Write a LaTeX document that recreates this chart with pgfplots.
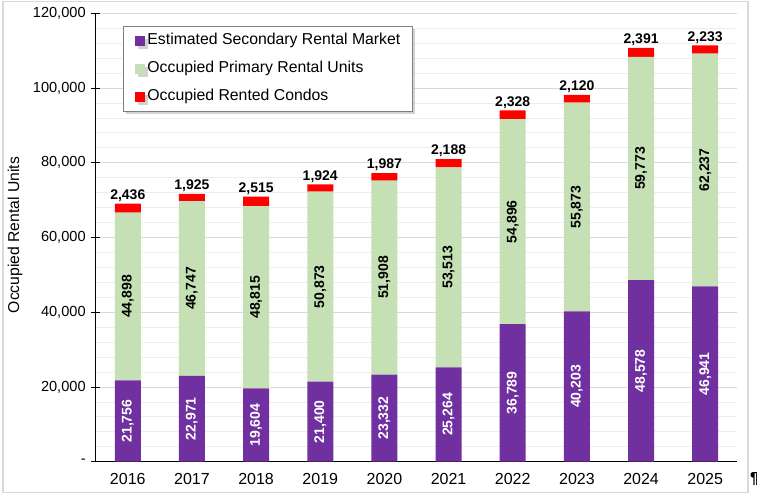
\documentclass[border=0pt]{standalone}
\usepackage{fontspec}
\setmainfont{Liberation Sans}
\usepackage{pgfplots}
\usepackage{pgfplotstable}
\pgfplotsset{compat=1.18}
\usetikzlibrary{shadows}
\definecolor{secc}{HTML}{7030A0}
\definecolor{primc}{HTML}{C5E0B4}
\definecolor{condc}{HTML}{FF0000}
\definecolor{majgrid}{HTML}{D9D9D9}
\definecolor{mingrid}{HTML}{EDEDED}
\definecolor{framec}{HTML}{D9D9D9}

\pgfplotstableread{
x year sec prim condo
0 2016 21756 44898 2436
1 2017 22971 46747 1925
2 2018 19604 48815 2515
3 2019 21400 50873 1924
4 2020 23332 51908 1987
5 2021 25264 53513 2188
6 2022 36789 54896 2328
7 2023 40203 55873 2120
8 2024 48578 59773 2391
9 2025 46941 62237 2233
}\data

\pgfplotsset{common/.style={width=641.6pt, height=448.4pt, scale only axis,
  xmin=-0.5, xmax=9.5, ymin=0, ymax=120000, at={(0,0)}, anchor=south west}}

\begin{document}
\begin{tikzpicture}
\begin{axis}[common,
  ybar stacked, bar width=26pt,
  axis x line=bottom, axis y line=left,
  axis line style={-, black, line width=0.8pt},
  ytick={0,20000,...,120000},
  yticklabels={-, {20,000}, {40,000}, {60,000}, {80,000}, {100,000}, {120,000}},
  minor y tick num=4,
  ymajorgrids, yminorgrids,
  major grid style={majgrid, line width=0.8pt},
  minor grid style={mingrid, line width=0.8pt},
  minor tick length=0pt,
  major tick length=9pt,
  tick align=center,
  tick style={black, line width=0.8pt},
  yticklabel style={font=\fontsize{14.6}{16}\selectfont, xshift=-2pt},
  xtick={0,...,9},
  xticklabels={2016,2017,2018,2019,2020,2021,2022,2023,2024,2025},
  xticklabel style={font=\fontsize{16}{18}\selectfont, yshift=-4pt},
  x tick style={draw=none},
  extra x ticks={-0.5,0.5,...,9.5},
  extra x tick labels={},
  extra x tick style={major tick length=10pt, tick style={black, line width=0.8pt, draw=black}},
  ylabel={Occupied Rental Units},
  ylabel style={at={(axis description cs:-0.1258,0.5056)}, anchor=center, font=\fontsize{15.7}{18}\selectfont},
  legend cell align=left,
  legend style={at={(axis description cs:0.0426,0.9717)}, anchor=north west,
    draw=gray, fill=white, line width=0.8pt,
    inner xsep=12pt, inner ysep=7.5pt,
    drop shadow={shadow xshift=3pt, shadow yshift=-3pt, fill=black!35, opacity=0.5},
    font=\fontsize{15.8}{18}\selectfont,
    nodes={inner sep=0pt, text height=11pt, text depth=3pt},
    row sep=14pt, column sep=2pt},
]
\addplot[fill=secc, draw=none, legend image code/.code={\fill[secc] (0pt,-5pt) rectangle (10pt,5pt);}] table[x=x, y=sec] {\data};
\addplot[fill=primc, draw=none, legend image code/.code={\fill[primc] (0pt,-5pt) rectangle (10pt,5pt);}] table[x=x, y=prim] {\data};
\addplot[fill=condc, draw=none, legend image code/.code={\fill[condc] (0pt,-5pt) rectangle (10pt,5pt);}] table[x=x, y=condo] {\data};
\legend{Estimated Secondary Rental Market, Occupied Primary Rental Units, Occupied Rented Condos}
\end{axis}
\begin{axis}[common, hide axis, clip=false,
  /pgf/number format/.cd, fixed, precision=0, 1000 sep={,}, assume math mode=true, /pgfplots/.cd]
\addplot[draw=none, mark=none, nodes near coords, point meta=\thisrow{sec},
  nodes near coords style={white, font=\fontsize{14}{16}\selectfont\bfseries, rotate=90, anchor=center}]
  table[x=x, y expr=\thisrow{sec}/2] {\data};
\addplot[draw=none, mark=none, nodes near coords, point meta=\thisrow{prim},
  nodes near coords style={black, font=\fontsize{14}{16}\selectfont\bfseries, rotate=90, anchor=center}]
  table[x=x, y expr=\thisrow{sec}+\thisrow{prim}/2] {\data};
\addplot[draw=none, mark=none, nodes near coords, point meta=\thisrow{condo},
  nodes near coords style={black, font=\fontsize{14}{16}\selectfont\bfseries, anchor=south, inner sep=1pt, yshift=1pt}]
  table[x=x, y expr=\thisrow{sec}+\thisrow{prim}+\thisrow{condo}] {\data};
\end{axis}
\draw[framec, line width=1.3pt] (-92.7pt,-31pt) rectangle (652.3pt,460.4pt);
\node[font=\fontsize{16}{18}\selectfont\bfseries, text=black, inner sep=0pt] at (658.8pt,-17.3pt) {¶};
\pgfresetboundingbox
\path[use as bounding box] (-95.7pt,-36.3pt) rectangle (661.3pt,461.7pt);
\end{tikzpicture}
\end{document}
